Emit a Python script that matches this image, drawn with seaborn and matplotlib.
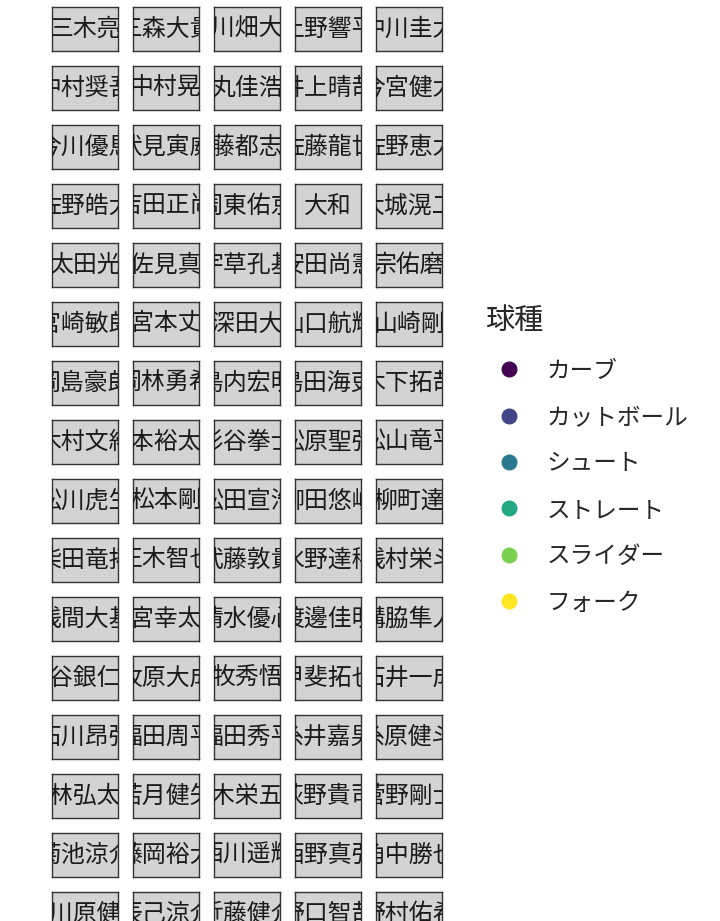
import numpy as np
import pandas as pd
import seaborn as sns
import matplotlib.pyplot as plt
from matplotlib.lines import Line2D

# players (facet labels), sorted as in the reference
names = [
    "三木亮", "三森大貴", "上川畑大悟", "上野響平", "中川圭太",
    "中村奨吾", "中村晃", "丸佳浩", "井上晴哉", "今宮健太",
    "今川優馬", "伏見寅威", "佐藤都志也", "佐藤龍世", "佐野恵太",
    "佐野皓大", "吉田正尚", "周東佑京", "大和", "大城滉二",
    "太田光", "宇佐見真吾", "宇草孔基", "安田尚憲", "宗佑磨",
    "宮崎敏郎", "宮本丈", "小深田大翔", "山口航輝", "山崎剛",
    "岡島豪郎", "岡林勇希", "島内宏明", "島田海吏", "木下拓哉",
    "木村文紀", "杉本裕太郎", "杉谷拳士", "松原聖弥", "松山竜平",
    "松川虎生", "松本剛", "松田宣浩", "柳田悠岐", "柳町達",
    "柴田竜拓", "正木智也", "武藤敦貴", "水野達稀", "浅村栄斗",
    "浅間大基", "清宮幸太郎", "清水優心", "渡邊佳明", "溝脇隼人",
    "炭谷銀仁朗", "牧原大成", "牧秀悟", "甲斐拓也", "石井一成",
    "石川昂弥", "福田周平", "福田秀平", "糸井嘉男", "糸原健斗",
    "紅林弘太郎", "若月健矢", "茂木栄五郎", "荻野貴司", "菅野剛士",
    "菊池涼介", "藤岡裕大", "西川遥輝", "西野真弘", "角中勝也",
    "谷川原健人", "辰己涼介", "近藤健介", "野口智哉", "野村佑希",
]
pitch_types = ["カーブ", "カットボール", "シュート", "ストレート", "スライダー", "フォーク"]
viridis6 = ["#440154", "#414487", "#2A788E", "#22A884", "#7AD151", "#FDE725"]

sns.set_theme(style="white")
plt.rcParams['font.family'] = ['Noto Sans CJK JP', 'DejaVu Sans']

W, H = 720, 921
fig = plt.figure(figsize=(W / 100, H / 100), dpi=100)

ncol = 5
for i, nm in enumerate(names):
    r, c = divmod(i, ncol)
    x0 = 52 + 81 * c
    y0 = 7 + 59 * r
    ax = fig.add_axes([x0 / W, 1 - (y0 + 44) / H, 66 / W, 44 / H])
    ax.set_facecolor('#d3d3d3')
    ax.set_xticks([])
    ax.set_yticks([])
    for s in ax.spines.values():
        s.set_color('#333333')
        s.set_linewidth(1.0)
    ax.text(0.5, 0.5, nm, ha='center', va='center', fontsize=17.2,
            color='#1a1a1a', transform=ax.transAxes, clip_on=True)

pal = sns.color_palette(viridis6)
handles = [Line2D([], [], marker='o', ls='', color=col, markersize=10.5) for col in pal]
fig.legend(handles, pitch_types, title='球種', loc='upper left',
           bbox_to_anchor=(464 / W, 1 - 285 / H), frameon=False,
           fontsize=17, title_fontsize=21, labelspacing=0.99,
           handletextpad=0.58, alignment='left')

fig.savefig('out.png', dpi=100, facecolor='white')
